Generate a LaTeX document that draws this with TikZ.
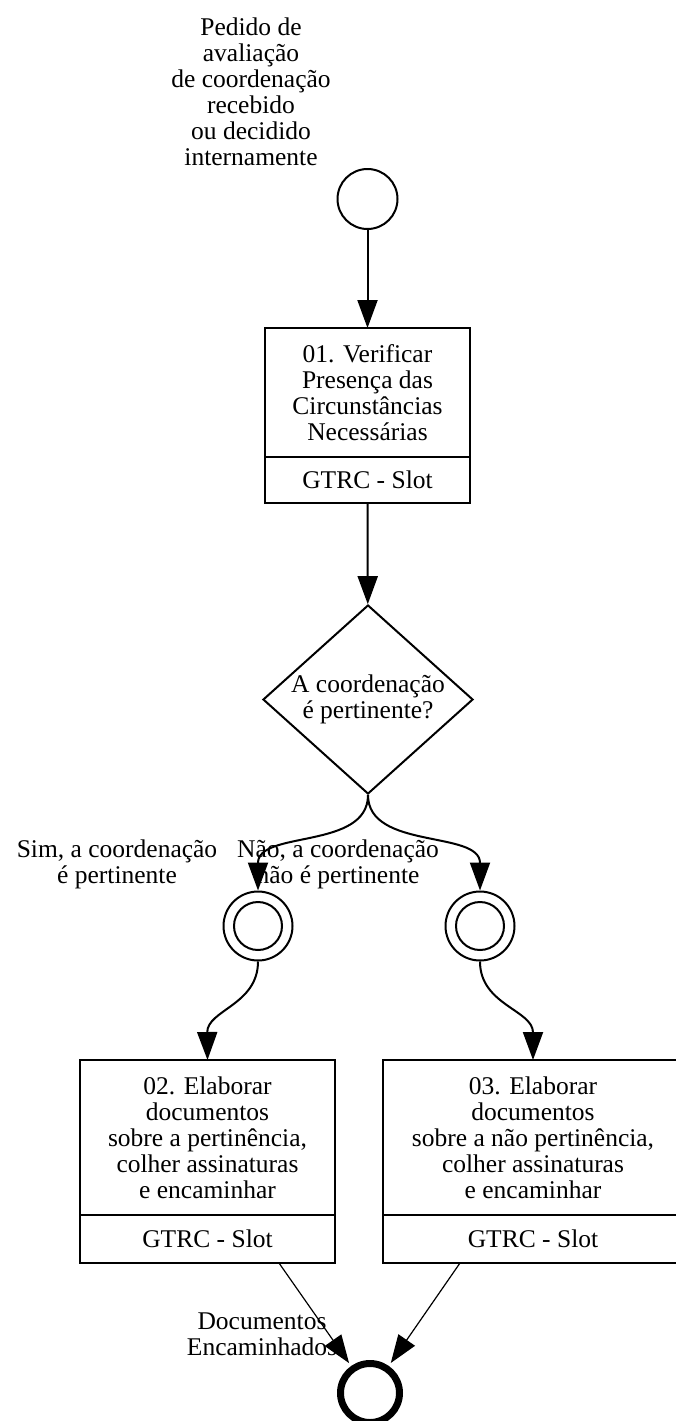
\documentclass[tikz,border=0pt]{standalone}
\usepackage{fontspec}
\setmainfont{Liberation Serif}
\usetikzlibrary{arrows.meta,shapes.geometric,calc}
\begin{document}
\begin{tikzpicture}[x=1pt,y=-1pt,
  txt/.style={font=\fontsize{25.5}{26}\selectfont, align=center, inner sep=0pt},
  taskbox/.style={draw, line width=2pt, minimum width=#1, inner sep=0pt, outer sep=0pt, font=\fontsize{25.5}{26}\selectfont, align=center},
  evt/.style={draw, circle, line width=2pt, minimum size=60pt, inner sep=0pt},
  flow/.style={line width=2pt, -{Triangle[length=28pt,width=20pt]}},
  thinflow/.style={line width=1.2pt, -{Triangle[length=28pt,width=20pt]}}
]
\useasboundingbox (0,0) rectangle (675,1421);

% start
\node[txt] (startlbl) at (251,92) {Pedido de\\avaliação\\de coordenação\\recebido\\ou decidido\\internamente};
\node[evt] (start) at (367.5,199) {};

% task 1
\node[taskbox=205pt, minimum height=129pt] (t1) at (367.5,392.5) {01. Verificar\\Presença das\\Circunstâncias\\Necessárias};
\node[taskbox=205pt, minimum height=46pt, anchor=north] (r1) at (t1.south) {GTRC - Slot};

% gateway
\node[draw, diamond, line width=2pt, minimum width=210pt, minimum height=189pt, inner sep=0pt] (gw) at (368,699.5) {};
\node[txt] (gwtxt) at (gw.center) {A coordenação\\é pertinente?};

% intermediate events
\node[evt, minimum size=69pt] (e1) at (258,926) {};
\node[draw, circle, line width=2pt, minimum size=48pt, inner sep=0pt] (e1i) at (e1.center) {};
\node[evt, minimum size=69pt] (e2) at (480,926) {};
\node[draw, circle, line width=2pt, minimum size=48pt, inner sep=0pt] (e2i) at (e2.center) {};

% edge labels
\node[txt] (lsim) at (117,864) {Sim, a coordenação\\é pertinente};
\node[txt] (lnao) at (338,864) {Não, a coordenação\\não é pertinente};

% tasks 2 and 3
\node[taskbox=255pt, minimum height=155pt] (t2) at (207.5,1137.5) {02. Elaborar\\documentos\\sobre a pertinência,\\colher assinaturas\\e encaminhar};
\node[taskbox=255pt, minimum height=48pt, anchor=north] (r2) at (t2.south) {GTRC - Slot};
\node[taskbox=300pt, minimum height=155pt] (t3) at (533,1137.5) {03. Elaborar\\documentos\\sobre a não pertinência,\\colher assinaturas\\e encaminhar};
\node[taskbox=300pt, minimum height=48pt, anchor=north] (r3) at (t3.south) {GTRC - Slot};

% end
\node[draw, circle, line width=7pt, minimum size=59pt, inner sep=0pt] (end) at (370,1393) {};
\node[txt] (ldoc) at (262,1334) {Documentos\\Encaminhados};

% connectors
\draw[flow] (start) -- (t1);
\draw[flow] (r1) -- (gw);
\draw[flow] (gw.south) .. controls (368,850) and (258,830) .. (e1.north);
\draw[flow] (gw.south) .. controls (368,850) and (480,830) .. (e2.north);
\draw[flow] (e1.south) .. controls (258,1005) and (207,1010) .. (t2.north);
\draw[flow] (e2.south) .. controls (480,1005) and (533,1010) .. (t3.north);
\coordinate (o2) at ($(r2.south)+(71.5,0)$);
\coordinate (o3) at ($(r3.south)+(-73,0)$);
\draw[thinflow, shorten >=3.5pt] (o2) -- (end);
\draw[thinflow, shorten >=3.5pt] (o3) -- (end);
\end{tikzpicture}
\end{document}
